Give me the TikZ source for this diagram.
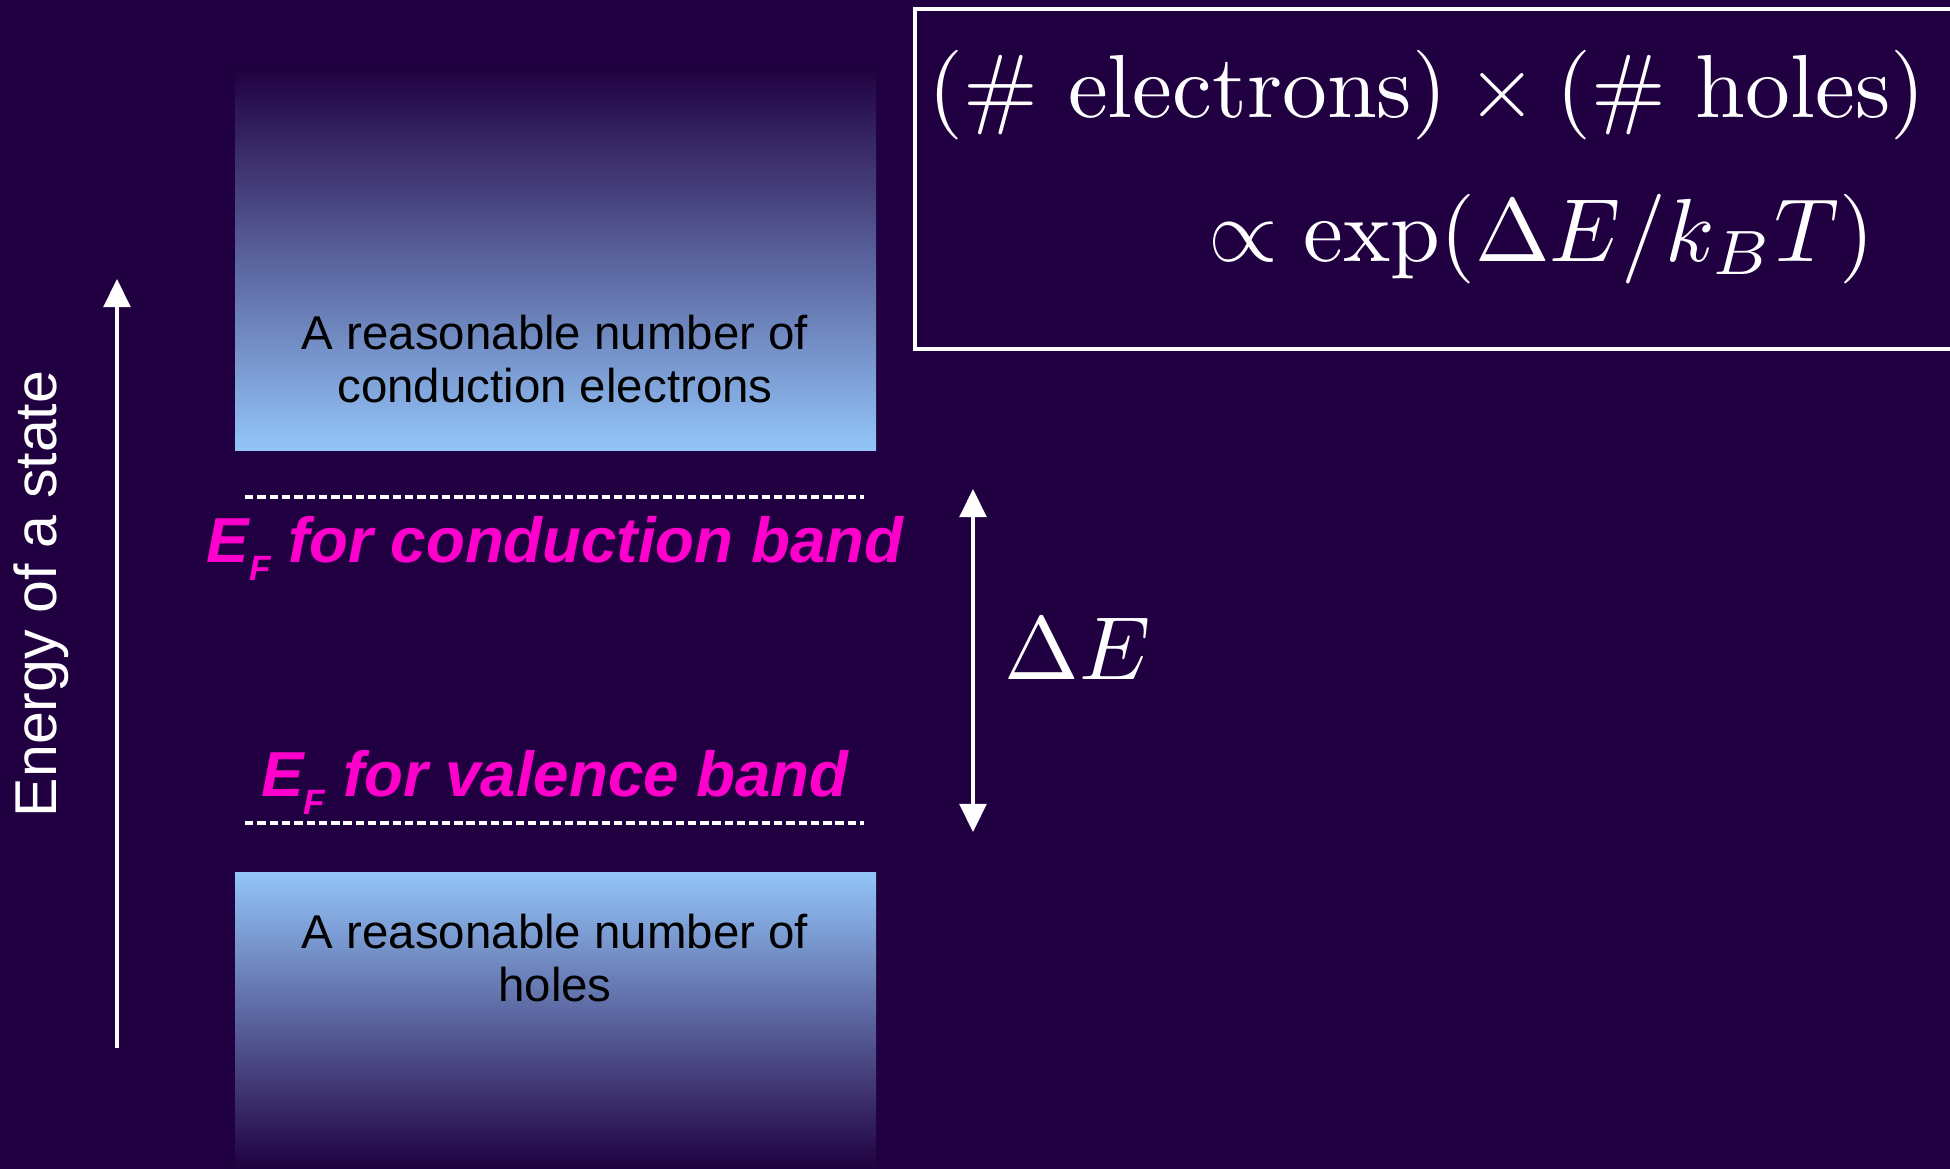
\documentclass[tikz,border=0pt]{standalone}
\usepackage{amsmath}
\usepackage{graphicx}
\usepackage{fontspec}
\usepackage{xcolor}
\usepackage{tikz}
\usetikzlibrary{arrows.meta, positioning, calc}
\newfontfamily\lsans{Liberation Sans}
\definecolor{gap-bg}{RGB}{32, 0, 64}
\definecolor{gap-blue}{RGB}{147, 197, 249}
\definecolor{gap-pink}{RGB}{255, 0, 204}
\newcommand{\bigmath}[1]{\scalebox{2.55}{$#1$}}

\begin{document}
\begin{tikzpicture}[x=1cm, y=-1cm,
    band/.style={rectangle, inner sep=0pt, minimum width=6.41cm},
    bandtext/.style={align=center, text=black, inner sep=0pt,
                     font=\lsans\fontsize{13.5}{15.1}\selectfont},
    fermi/.style={anchor=base, inner sep=0pt, text=gap-pink,
                  font=\lsans\bfseries\itshape\fontsize{18.1}{21}\selectfont},
    fermiline/.style={white, line width=1pt, dash pattern=on 2.4pt off 1.1pt},
    formula/.style={anchor=base west, inner sep=0pt, text=white},
    arr/.style={white, line width=1.1pt, -{Triangle[length=8pt, width=7.6pt]}},
    darr/.style={arr, {Triangle[length=8pt, width=7.6pt]}-{Triangle[length=8pt, width=7.6pt]}}
  ]
    \useasboundingbox (0,0) rectangle (19.5,11.69);
    \fill[gap-bg] (0,0) rectangle (19.5,11.69);
    \clip (0,0) rectangle (19.5,11.69);

    % bands
    \node[band, minimum height=3.82cm, top color=gap-bg, bottom color=gap-blue] (cband) at (5.555,2.59) {};
    \node[band, minimum height=2.97cm, top color=gap-blue, bottom color=gap-bg] (vband) at (5.555,10.205) {};
    \node[bandtext] (ctext) at (5.55,3.595) {A reasonable number of\\conduction electrons};
    \node[bandtext] (vtext) at (5.55,9.585) {A reasonable number of\\holes};

    % Fermi levels
    \coordinate (cl-w) at (2.45,4.97);
    \coordinate (cl-e) at (8.64,4.97);
    \coordinate (vl-w) at (2.45,8.23);
    \coordinate (vl-e) at (8.64,8.23);
    \draw[fermiline] (cl-w) -- (cl-e);
    \draw[fermiline] (vl-w) -- (vl-e);
    \node[fermi] (cfermi) at (5.55,5.62) {E\raisebox{-5.3pt}{\fontsize{10}{12}\selectfont F} for conduction band};
    \node[fermi] (vfermi) at (5.55,7.96) {E\raisebox{-5.3pt}{\fontsize{10}{12}\selectfont F} for valence band};

    % energy axis
    \coordinate (ebot) at (1.17,10.48);
    \coordinate (etop) at (1.17,2.79);
    \draw[arr] (ebot) -- (etop);
    \node[rotate=90, inner sep=0pt, text=white, font=\lsans\fontsize{16.8}{19}\selectfont] (energy) at (0.41,5.94) {Energy of a state};

    % gap
    \coordinate (dtop) at (9.73,4.89);
    \coordinate (dbot) at (9.73,8.32);
    \draw[darr] (dbot) -- (dtop);
    \node[formula] (gap) at (10.04,6.79) {\bigmath{\Delta E}};

    % law of mass action
    \draw[white, line width=1.2pt] (9.15,0.09) rectangle (19.8,3.49);
    \node[formula] (prod) at (9.28,1.17) {\bigmath{(\text{\# electrons}) \times (\text{\# holes})}};
    \node[formula] (prop) at (12.08,2.61) {\bigmath{\propto \exp(\Delta E/k_BT)}};
  \end{tikzpicture}
\end{document}
